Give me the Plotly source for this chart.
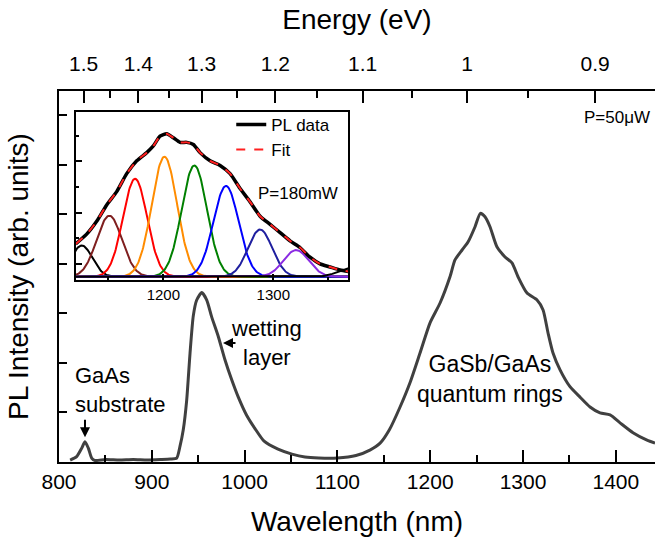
import numpy as np
import plotly.graph_objects as go

# ---------------- main spectrum (P = 50 uW) ----------------
wavelength_nm = [812, 819, 824.5, 828, 831.6, 835.2, 838.8, 850, 865, 880, 895, 910, 920,
                 926.8, 930.4, 933.9, 937.6, 941.2, 944.7, 948.4, 953.8, 959.2, 964.5,
                 971.7, 978.9, 986.1, 993.2, 1002, 1011, 1021, 1036, 1051, 1065, 1080,
                 1100, 1120, 1135, 1146, 1156, 1167.5, 1178.2, 1189, 1199.8, 1210.6,
                 1221.3, 1226.7, 1234.3, 1240.7, 1248.3, 1254, 1259, 1264.4, 1272,
                 1280.6, 1288.1, 1294.6, 1304.3, 1315.1, 1321.6, 1326.9, 1332.3, 1339.9,
                 1350.6, 1361.4, 1372.2, 1383, 1393.8, 1404.5, 1418.5, 1433.6, 1442.2]
intensity = [0.04, 0.11, 0.28, 0.41, 0.28, 0.08, 0.03, 0.05, 0.04, 0.05, 0.04, 0.05, 0.06,
             0.08, 0.32, 0.65, 1.25, 2.2, 2.95, 3.27, 3.42, 3.27, 2.93,
             2.53, 2.06, 1.66, 1.31, 0.95, 0.68, 0.42, 0.26, 0.16, 0.10, 0.08,
             0.08, 0.13, 0.24, 0.38, 0.65, 1.11, 1.60, 2.20, 2.81, 3.21,
             3.74, 4.08, 4.28, 4.44, 4.75, 5.02, 4.95, 4.75, 4.34,
             4.14, 4.02, 3.74, 3.41, 3.27, 3.07, 2.61, 2.20, 1.86,
             1.52, 1.31, 1.11, 0.99, 0.95, 0.79, 0.59, 0.44, 0.38]

wl_ticks = [800, 900, 1000, 1100, 1200, 1300, 1400]
energy_ticks = [1.5, 1.4, 1.3, 1.2, 1.1, 1.0, 0.9]
energy_labels = ["1.5", "1.4", "1.3", "1.2", "1.1", "1", "0.9"]
energy_minor = [1.45, 1.35, 1.25, 1.15, 1.05, 0.95]
HC = 1239.84  # eV*nm

# ---------------- inset (P = 180 mW) ----------------
inset_wl = [1120.3, 1130.3, 1139.4, 1148.5, 1157.6, 1166.7, 1175.8, 1184.9, 1190.9, 1197.0,
            1203.1, 1209.1, 1215.2, 1221.3, 1227.3, 1233.4, 1242.5, 1251.6, 1260.7, 1269.8,
            1278.9, 1288.0, 1297.1, 1306.2, 1315.2, 1324.3, 1333.4, 1342.5, 1351.6, 1360.7,
            1368.3]
inset_pl = [0.64, 0.83, 1.08, 1.40, 1.66, 2.01, 2.26, 2.42, 2.55, 2.74,
            2.79, 2.71, 2.62, 2.62, 2.58, 2.42, 2.26, 2.17, 2.01, 1.72,
            1.46, 1.18, 1.02, 0.86, 0.70, 0.57, 0.38, 0.25, 0.19, 0.13,
            0.10]
inset_fit = list(inset_pl)

peak_centers = [1125.8, 1150.9, 1174.3, 1201.0, 1228.2, 1257.0, 1288.0, 1320.7, 1372.0]
peak_heights = [0.61, 1.19, 1.91, 2.34, 2.17, 1.77, 0.92, 0.52, 0.18]
peak_sigmas = [9.5, 11.5, 11.0, 11.5, 11.5, 11.5, 11.0, 11.5, 12.0]
peak_colors = ["#000000", "#7f1f1f", "#ff0000", "#ff8c00", "#008000", "#0000ff",
               "#1f1f9f", "#8a2be2", "#000000"]

FONT = "Liberation Sans, Arial, sans-serif"
LINE = "#404040"

fig = go.Figure()

fig.add_trace(go.Scatter(x=wavelength_nm, y=intensity, mode="lines",
                         line=dict(color=LINE, width=3, shape="spline", smoothing=0.6),
                         showlegend=False, hoverinfo="skip"))
# dummy trace to activate top axis
fig.add_trace(go.Scatter(x=wavelength_nm, y=intensity, xaxis="x2", yaxis="y",
                         mode="lines", line=dict(color="rgba(0,0,0,0)", width=0),
                         showlegend=False, hoverinfo="skip"))

xg = np.linspace(1110, 1380, 400)
for c, h, s, col in zip(peak_centers, peak_heights, peak_sigmas, peak_colors):
    fig.add_trace(go.Scatter(x=xg, y=h * np.exp(-(xg - c) ** 2 / (2 * s ** 2)),
                             xaxis="x3", yaxis="y3", mode="lines",
                             line=dict(color=col, width=2), showlegend=False,
                             hoverinfo="skip"))

fig.add_trace(go.Scatter(x=inset_wl, y=inset_pl, xaxis="x3", yaxis="y3", mode="lines",
                         name="PL data",
                         line=dict(color="black", width=3.5, shape="spline", smoothing=0.6)))
fig.add_trace(go.Scatter(x=inset_wl, y=inset_fit, xaxis="x3", yaxis="y3", mode="lines",
                         name="Fit",
                         line=dict(color="#ff2020", width=2, dash="dash", shape="spline",
                                   smoothing=0.6)))

xr = [800, 1442.2]
axis_common = dict(showline=True, linecolor="black", linewidth=2, showgrid=False,
                   zeroline=False, ticks="inside", tickcolor="black", tickwidth=2)

fig.update_layout(
    width=655, height=541,
    margin=dict(l=59, r=0, t=91, b=79),
    paper_bgcolor="white", plot_bgcolor="white",
    font=dict(family=FONT, color="black"),
    xaxis=dict(**axis_common, range=xr, tickvals=wl_ticks, ticklen=12,
               tickfont=dict(size=21),
               minor=dict(dtick=50, tick0=800, ticks="inside", ticklen=7,
                          tickcolor="black", tickwidth=2),
               title=dict(text="Wavelength (nm)", font=dict(size=28), standoff=19)),
    xaxis2=dict(**axis_common, range=xr, overlaying="x", side="top",
                tickvals=[HC / e for e in energy_ticks], ticktext=energy_labels,
                ticklen=12, tickfont=dict(size=21), ticklabelstandoff=10,
                minor=dict(tickvals=[HC / e for e in energy_minor], ticks="inside",
                           ticklen=7, tickcolor="black", tickwidth=2),
                title=dict(text="Energy (eV)", font=dict(size=28), standoff=14)),
    yaxis=dict(**axis_common, range=[0, 7.49], dtick=1, ticklen=8,
               showticklabels=False,
               title=dict(text="PL Intensity (arb. units)", font=dict(size=28),
                          standoff=20)),
    xaxis3=dict(**axis_common, mirror=True, domain=[0.028, 0.485], anchor="y3",
                range=[1120.3, 1368], tickvals=[1200, 1300], ticklen=6,
                tickfont=dict(size=15),
                minor=dict(tickvals=[1150, 1250, 1350], ticks="inside", ticklen=3,
                           tickcolor="black", tickwidth=2)),
    yaxis3=dict(**axis_common, mirror=True, domain=[0.4906, 0.944], anchor="x3",
                range=[-0.064, 3.217], tick0=0.25, dtick=1, ticklen=6,
                showticklabels=False,
                minor=dict(tick0=0.25, dtick=0.5, ticks="inside", ticklen=3,
                           tickcolor="black", tickwidth=2)),
    legend=dict(x=0.289, y=0.957, xanchor="left", yanchor="top",
                bgcolor="rgba(0,0,0,0)", font=dict(size=17), tracegroupgap=0),
    showlegend=True,
)

ann_font = dict(family=FONT, size=22, color="black")
fig.add_annotation(x=815, y=1.45, xref="x", yref="y", text="GaAs<br>substrate",
                   showarrow=False, xanchor="left", align="left", font=ann_font)
fig.add_annotation(x=828, y=0.5, ax=0, ay=-19, xref="x", yref="y", text="",
                   showarrow=True, arrowhead=2, arrowsize=1, arrowwidth=2,
                   arrowcolor="black")
fig.add_annotation(x=1024, y=2.4, xref="x", yref="y", text="wetting<br>layer",
                   showarrow=False, align="center", font=ann_font)
fig.add_annotation(x=976.7, y=2.4, ax=14, ay=0, xref="x", yref="y", text="",
                   showarrow=True, arrowhead=2, arrowsize=1, arrowwidth=2,
                   arrowcolor="black")
fig.add_annotation(x=1264.4, y=1.68, xref="x", yref="y",
                   text="GaSb/GaAs<br>quantum rings",
                   showarrow=False, align="center",
                   font=dict(family=FONT, size=23, color="black"))
fig.add_annotation(x=1363.6, y=6.95, xref="x", yref="y", text="P=50μW",
                   showarrow=False, xanchor="left", font=dict(family=FONT, size=17))
fig.add_annotation(x=1322.3, y=1.62, xref="x3", yref="y3", text="P=180mW",
                   showarrow=False, font=dict(family=FONT, size=17))

fig.write_html("out.html")
